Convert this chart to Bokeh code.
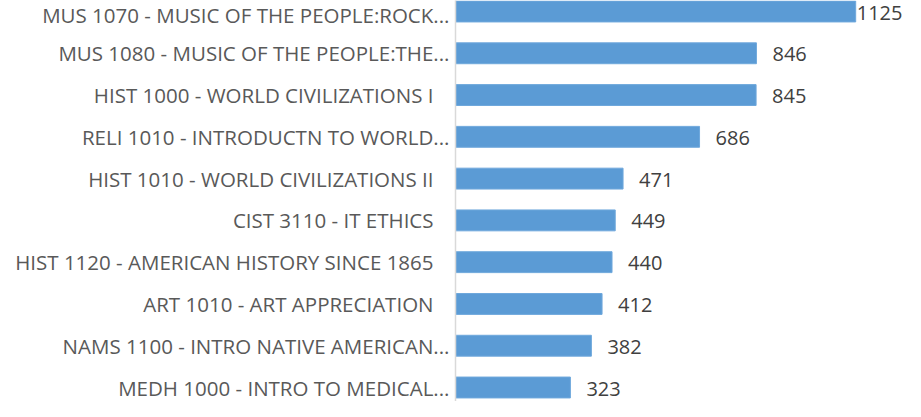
from bokeh.plotting import figure
from bokeh.models import Range1d, FixedTicker, ColumnDataSource
from bokeh.core.properties import value
from bokeh.embed import file_html
from bokeh.resources import INLINE

courses = [
    "MUS 1070 - MUSIC OF THE PEOPLE:ROCK...",
    "MUS 1080 - MUSIC OF THE PEOPLE:THE...",
    "HIST 1000 - WORLD CIVILIZATIONS I",
    "RELI 1010 - INTRODUCTN TO WORLD...",
    "HIST 1010 - WORLD CIVILIZATIONS II",
    "CIST 3110 - IT ETHICS",
    "HIST 1120 - AMERICAN HISTORY SINCE 1865",
    "ART 1010 - ART APPRECIATION",
    "NAMS 1100 - INTRO NATIVE AMERICAN...",
    "MEDH 1000 - INTRO TO MEDICAL...",
]
enrollments = [1125, 846, 845, 686, 471, 449, 440, 412, 382, 323]

FONT = "Open Sans"
pos = list(range(len(courses)))
vmax = max(enrollments)
offsets = [1 if v == vmax else 16 for v in enrollments]

src = ColumnDataSource(dict(
    y=pos, v=enrollments, label=[str(v) for v in enrollments], off=offsets,
))

p = figure(width=905, height=401, output_backend="svg", toolbar_location=None,
           x_range=Range1d(0, 1265), y_range=Range1d(9.3351, -0.2633),
           x_axis_type=None, tools="")
p.min_border = 0
p.min_border_left = 455
p.outline_line_color = None
p.grid.visible = False
p.background_fill_color = "white"
p.border_fill_color = "white"

p.hbar(y="y", right="v", left=0, height=0.5, source=src,
       fill_color="#5B9BD5", line_color="#6FA8DC", line_width=1)

p.text(x="v", y="y", text="label", source=src, x_offset="off", y_offset=1,
       text_align="left", text_baseline="middle", text_line_height=1.0,
       text_font=value(FONT), text_font_size="20px", text_color="#404040")

ax = p.yaxis[0]
ax.ticker = FixedTicker(ticks=pos)
ax.major_label_overrides = {
    i: (c if c.endswith("...") else c + "\u00a0\u00a0\u00a0") for i, c in zip(pos, courses)
}
ax.major_tick_line_color = None
ax.major_tick_out = 0
ax.major_tick_in = 0
ax.minor_tick_line_color = None
ax.axis_line_color = "#D9D9D9"
ax.axis_line_width = 1.5
ax.major_label_standoff = 6
ax.major_label_text_font = FONT
ax.major_label_text_font_size = "20.5px"
ax.major_label_text_color = "#595959"

open("out.html", "w").write(file_html(p, INLINE))
